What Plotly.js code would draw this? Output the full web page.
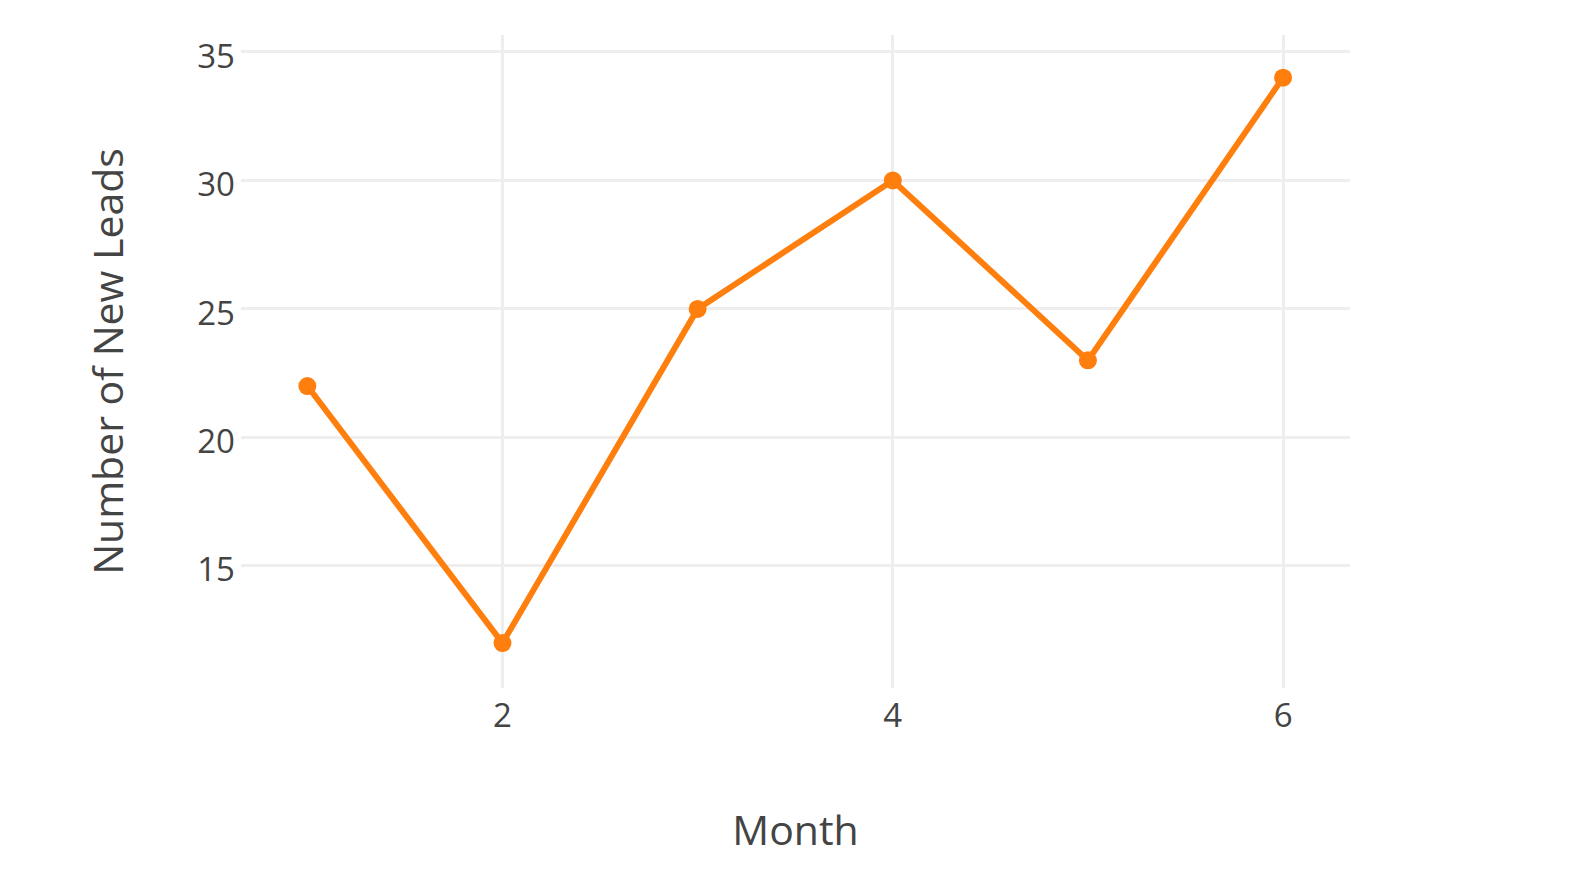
<!DOCTYPE html>
<html>
<head>
<meta charset="utf-8">
<script src="https://cdn.plot.ly/plotly-3.0.1.min.js"></script>
<style>html,body{margin:0;padding:0;background:#fff;}#chart{width:1590px;height:876px;}</style>
</head>
<body>
<div id="chart"></div>
<script>
const months = [1, 2, 3, 4, 5, 6];
const newLeads = [22, 12, 25, 30, 23, 34];
const xTickVals = [2, 4, 6];
const yTickVals = [15, 20, 25, 30, 35];

const trace = {
  x: months,
  y: newLeads,
  type: 'scatter',
  mode: 'lines+markers',
  line: {color: '#ff7f0e', width: 6},
  marker: {color: '#ff7f0e', size: 18},
  hoverinfo: 'x+y'
};

const layout = {
  width: 1590,
  height: 876,
  margin: {l: 241, r: 240, t: 35, b: 188},
  paper_bgcolor: '#fff',
  plot_bgcolor: '#fff',
  font: {family: '"Open Sans", verdana, arial, sans-serif', color: '#444', size: 33},
  showlegend: false,
  xaxis: {
    range: [0.66, 6.343],
    tickvals: xTickVals,
    showgrid: true,
    gridcolor: '#eee',
    gridwidth: 3,
    zeroline: false,
    showline: false,
    ticklabelstandoff: 5,
    tickfont: {size: 33, color: '#444'},
    title: {text: 'Month', font: {size: 41, color: '#444'}, standoff: 80}
  },
  yaxis: {
    range: [10.25, 35.66],
    tickvals: yTickVals,
    showgrid: true,
    gridcolor: '#eee',
    gridwidth: 3,
    zeroline: false,
    showline: false,
    ticklabelstandoff: 5,
    ticklabelshift: 4,
    tickfont: {size: 33, color: '#444'},
    title: {text: 'Number of New Leads', font: {size: 41, color: '#444'}, standoff: 60}
  }
};

Plotly.newPlot('chart', [trace], layout, {displayModeBar: false});
</script>
</body>
</html>
